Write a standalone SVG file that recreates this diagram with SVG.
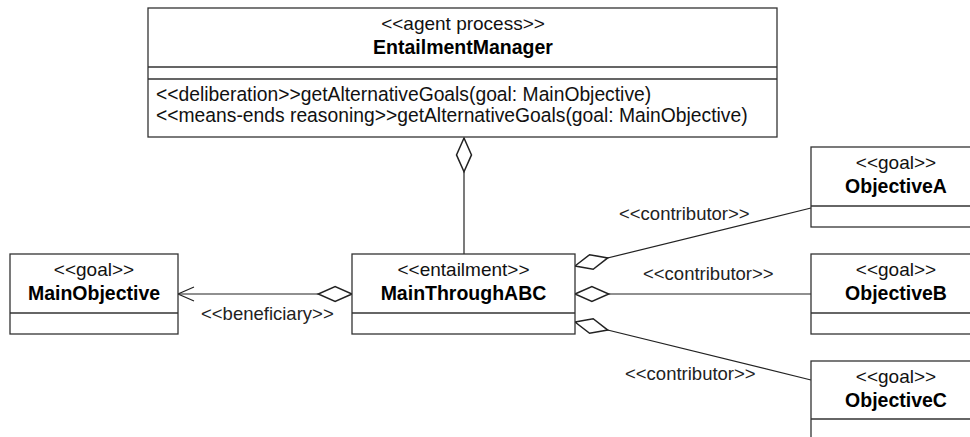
<svg xmlns="http://www.w3.org/2000/svg" width="970" height="437" viewBox="0 0 970 437">
<style>
.box{fill:#fff;stroke:#333;stroke-width:1.3}
.div{stroke:#333;stroke-width:1.3;fill:none}
.st{font-family:"Liberation Sans",Arial,sans-serif;font-size:19px;fill:#111;text-anchor:middle}
.nm{font-family:"Liberation Sans",Arial,sans-serif;font-size:19.5px;font-weight:bold;fill:#000;text-anchor:middle}
.op{font-family:"Liberation Sans",Arial,sans-serif;font-size:19.3px;fill:#111}
.lb{font-family:"Liberation Sans",Arial,sans-serif;font-size:18.5px;fill:#222}
.cn{stroke:#222;stroke-width:1.2;fill:none}
</style>
<defs>
<marker id="dia" markerUnits="userSpaceOnUse" markerWidth="40" markerHeight="20" viewBox="-2 -8 32 16" refX="0" refY="0" orient="auto">
<path d="M0,0 L13.5,-6 L27,0 L13.5,6 Z" fill="#fff" stroke="#222" stroke-width="1.2"/>
</marker>
<marker id="arr" markerUnits="userSpaceOnUse" markerWidth="24" markerHeight="20" viewBox="-20 -10 22 20" refX="0" refY="0" orient="auto">
<path d="M-16,-7 L0,0 L-16,7" fill="none" stroke="#222" stroke-width="1.2"/>
</marker>
</defs>
<g id="connectors">
<path class="cn" d="M464,138 L464,254" marker-start="url(#dia)"/>
<path class="cn" d="M352,294 L178,294" marker-start="url(#dia)" marker-end="url(#arr)"/>
<path class="cn" d="M575,266 L811,208" marker-start="url(#dia)"/>
<path class="cn" d="M575,294 L811,294" marker-start="url(#dia)"/>
<path class="cn" d="M575,322 L811,380" marker-start="url(#dia)"/>
<text class="lb" x="201" y="320">&lt;&lt;beneficiary&gt;&gt;</text>
<text class="lb" x="619" y="220">&lt;&lt;contributor&gt;&gt;</text>
<text class="lb" x="643" y="280">&lt;&lt;contributor&gt;&gt;</text>
<text class="lb" x="625" y="380">&lt;&lt;contributor&gt;&gt;</text>
</g>
<g id="EntailmentManager">
<rect class="box" x="148" y="8" width="629" height="129"/>
<path class="div" d="M148,67 H777 M148,79 H777"/>
<text class="st" x="463" y="30">&lt;&lt;agent process&gt;&gt;</text>
<text class="nm" x="463" y="54">EntailmentManager</text>
<text class="op" x="156" y="101">&lt;&lt;deliberation&gt;&gt;getAlternativeGoals(goal: MainObjective)</text>
<text class="op" x="156" y="122">&lt;&lt;means-ends reasoning&gt;&gt;getAlternativeGoals(goal: MainObjective)</text>
</g>
<g id="MainObjective">
<rect class="box" x="10" y="254" width="168" height="80"/>
<path class="div" d="M10,313 H178"/>
<text class="st" x="94" y="276">&lt;&lt;goal&gt;&gt;</text>
<text class="nm" x="94" y="300">MainObjective</text>
</g>
<g id="MainThroughABC">
<rect class="box" x="352" y="254" width="223" height="80"/>
<path class="div" d="M352,313 H575"/>
<text class="st" x="463.5" y="276">&lt;&lt;entailment&gt;&gt;</text>
<text class="nm" x="463.5" y="300">MainThroughABC</text>
</g>
<g id="ObjectiveA">
<rect class="box" x="811" y="147" width="170" height="80"/>
<path class="div" d="M811,206 H981"/>
<text class="st" x="896" y="169">&lt;&lt;goal&gt;&gt;</text>
<text class="nm" x="896" y="193">ObjectiveA</text>
</g>
<g id="ObjectiveB">
<rect class="box" x="811" y="254" width="170" height="80"/>
<path class="div" d="M811,313 H981"/>
<text class="st" x="896" y="276">&lt;&lt;goal&gt;&gt;</text>
<text class="nm" x="896" y="300">ObjectiveB</text>
</g>
<g id="ObjectiveC">
<rect class="box" x="811" y="361" width="170" height="80"/>
<path class="div" d="M811,419 H981"/>
<text class="st" x="896" y="383">&lt;&lt;goal&gt;&gt;</text>
<text class="nm" x="896" y="407">ObjectiveC</text>
</g>
</svg>
